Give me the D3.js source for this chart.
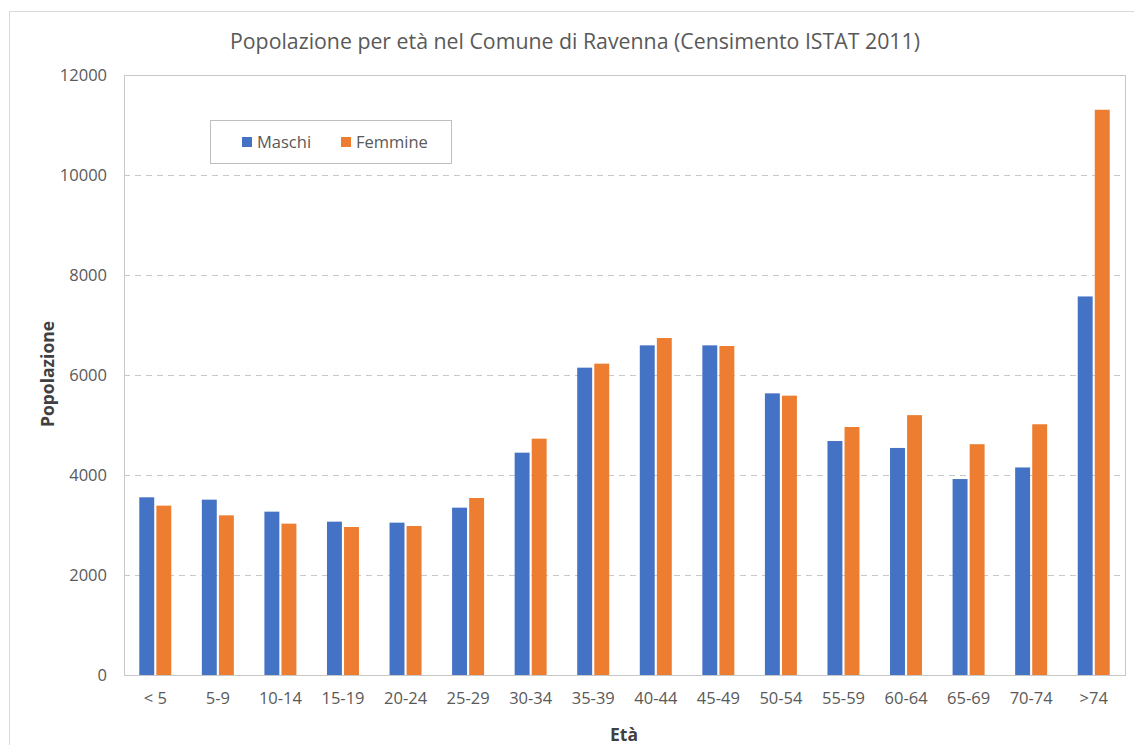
<!DOCTYPE html>
<html>
<head>
<meta charset="utf-8">
<script src="https://cdn.jsdelivr.net/npm/d3@7"></script>
<style>
  body { margin: 0; background: #fff; }
  text { font-family: "Open Sans", sans-serif; fill: #595959; }
</style>
</head>
<body>
<div id="chart"></div>
<script>
// età (classi quinquennali)
var categories = ["< 5", "5-9", "10-14", "15-19", "20-24", "25-29", "30-34", "35-39",
                  "40-44", "45-49", "50-54", "55-59", "60-64", "65-69", "70-74", ">74"];
var maschi   = [3554, 3507, 3267, 3067, 3047, 3347, 4447, 6147, 6593, 6593, 5633, 4680, 4541, 3919, 4151, 7571];
var femmine  = [3387, 3193, 3027, 2960, 2980, 3540, 4727, 6227, 6740, 6580, 5587, 4960, 5197, 4616, 5015, 11305];
var series   = ["Maschi", "Femmine"];
var yTicks   = [0, 2000, 4000, 6000, 8000, 10000, 12000];

var colors = {Maschi: "#4472C4", Femmine: "#ED7D31"};

var W = 1134, H = 745;
var margin = {top: 75, right: 9, bottom: 70, left: 124},
    w = W - margin.left - margin.right,
    h = H - margin.top - margin.bottom;

var svg = d3.select("#chart").append("svg")
    .attr("width", W)
    .attr("height", H);

// outer chart border
svg.append("rect")
    .attr("x", 9.5).attr("y", 11.5)
    .attr("width", W + 20).attr("height", H + 20)
    .attr("fill", "none")
    .attr("stroke", "#d9d9d9");

var g = svg.append("g")
    .attr("transform", "translate(" + margin.left + "," + margin.top + ")");

var x0 = d3.scaleBand()
    .domain(categories)
    .range([0, w]);

var x1 = d3.scaleBand()
    .domain(series)
    .range([0, 32])
    .paddingInner(0.125);

var y = d3.scaleLinear()
    .domain([0, 12000])
    .range([h, 0]);

// dashed gridlines
g.append("g")
    .selectAll("line")
    .data(yTicks.filter(function(d) { return d > 0 && d < 12000; }))
    .enter().append("line")
      .attr("x1", 0).attr("x2", w)
      .attr("y1", function(d) { return Math.round(y(d)) + 0.5; })
      .attr("y2", function(d) { return Math.round(y(d)) + 0.5; })
      .attr("stroke", "#c8c8c8")
      .attr("stroke-dasharray", "6,5");

// plot area border
g.append("rect")
    .attr("x", 0.5).attr("y", 0.5)
    .attr("width", w).attr("height", h)
    .attr("fill", "none")
    .attr("stroke", "#c8c8c8");

// y axis
var yAxis = g.append("g")
    .call(d3.axisLeft(y).tickValues(yTicks).tickSize(0).tickPadding(17).tickFormat(d3.format("d")));
yAxis.select(".domain").remove();
yAxis.selectAll("text")
    .style("font-size", "16.5px")
    .attr("dy", "0.35em");

// x axis
var xAxis = g.append("g")
    .attr("transform", "translate(0," + h + ")")
    .call(d3.axisBottom(x0).tickSize(0).tickPadding(17));
xAxis.select(".domain").remove();
xAxis.selectAll("text")
    .style("font-size", "16.5px");

// bars
var rows = categories.map(function(c, i) {
  return {cat: c, values: [{s: "Maschi", v: maschi[i]}, {s: "Femmine", v: femmine[i]}]};
});

g.selectAll(".group")
    .data(rows)
    .enter().append("g")
      .attr("class", "group")
      .attr("transform", function(d) { return "translate(" + (x0(d.cat) + x0.bandwidth() / 2 - 16) + ",0)"; })
    .selectAll("rect")
    .data(function(d) { return d.values; })
    .enter().append("rect")
      .attr("x", function(d) { return x1(d.s); })
      .attr("width", x1.bandwidth())
      .attr("y", function(d) { return y(d.v); })
      .attr("height", function(d) { return h - y(d.v); })
      .attr("fill", function(d) { return colors[d.s]; });

// title
svg.append("text")
    .attr("x", 575)
    .attr("y", 49)
    .attr("text-anchor", "middle")
    .style("font-size", "21.3px")
    .text("Popolazione per età nel Comune di Ravenna (Censimento ISTAT 2011)");

// axis titles
svg.append("text")
    .attr("x", 624)
    .attr("y", 741)
    .attr("text-anchor", "middle")
    .style("font-size", "17.5px")
    .style("font-weight", "bold")
    .style("fill", "#404040")
    .text("Età");

svg.append("text")
    .attr("transform", "translate(54,374) rotate(-90)")
    .attr("text-anchor", "middle")
    .style("font-size", "17.5px")
    .style("font-weight", "bold")
    .style("fill", "#404040")
    .text("Popolazione");

// legend
var legend = svg.append("g")
    .attr("transform", "translate(210,120)");
legend.append("rect")
    .attr("x", 0.5).attr("y", 0.5)
    .attr("width", 241).attr("height", 43)
    .attr("fill", "#fff")
    .attr("stroke", "#bfbfbf");

var legendX = [32, 131];
series.forEach(function(s, i) {
  legend.append("rect")
      .attr("x", legendX[i]).attr("y", 17)
      .attr("width", 10).attr("height", 10)
      .attr("fill", colors[s]);
  legend.append("text")
      .attr("x", legendX[i] + 15)
      .attr("y", 22)
      .attr("dy", "0.35em")
      .style("font-size", "16.5px")
      .text(s);
});
</script>
</body>
</html>
